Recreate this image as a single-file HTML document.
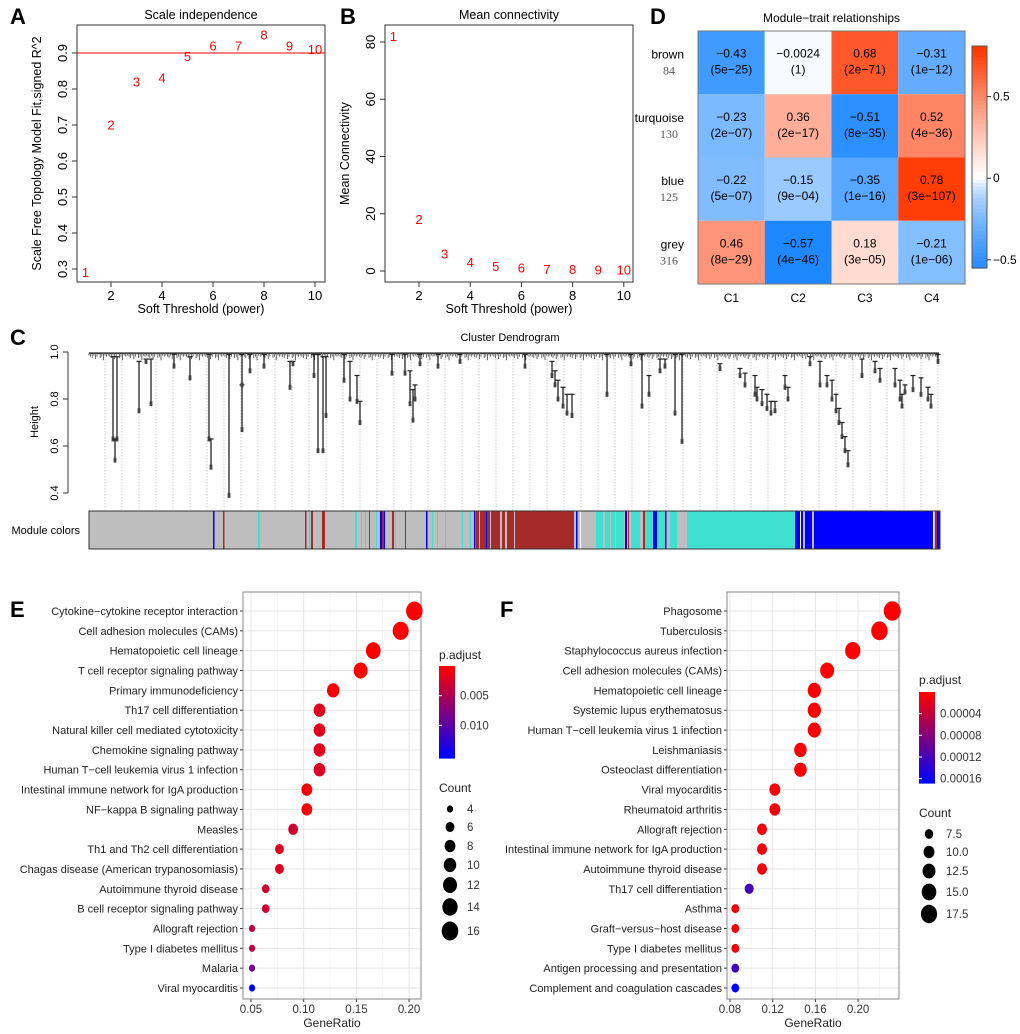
<!DOCTYPE html>
<html><head><meta charset="utf-8"><style>
html,body{margin:0;padding:0;background:#fff}
svg{display:block;font-family:"Liberation Sans",Arial,sans-serif}
</style></head><body>
<svg id="fig" width="1020" height="1034" viewBox="0 0 1020 1034" xmlns="http://www.w3.org/2000/svg"></svg>
<script>
// ---------- data ----------
const powers=[1,2,3,4,5,6,7,8,9,10];
const scaleFit=[0.29,0.70,0.82,0.83,0.89,0.92,0.92,0.95,0.92,0.91];
const meanConn=[82,18,6,3,1.5,1,0.6,0.5,0.4,0.3];
const modules=["brown","turquoise","blue","grey"];
const moduleSizes=[84,130,125,316];
const traits=["C1","C2","C3","C4"];
const corrVals=[[-0.43,-0.0024,0.68,-0.31],[-0.23,0.36,-0.51,0.52],[-0.22,-0.15,-0.35,0.78],[0.46,-0.57,0.18,-0.21]];
const corrP=[["5e-25","1","2e-71","1e-12"],["2e-07","2e-17","8e-35","4e-36"],["5e-07","9e-04","1e-16","3e-107"],["8e-29","4e-46","3e-05","1e-06"]];
const corrLabels=[["-0.43","-0.0024","0.68","-0.31"],["-0.23","0.36","-0.51","0.52"],["-0.22","-0.15","-0.35","0.78"],["0.46","-0.57","0.18","-0.21"]];
// dendrogram stems: [leaf position, top height, bottom height]
const dendroStems=[[113,.98,.63],[117,.98,.63],[115,.63,.54],[139,.96,.75],[151,.97,.78],[146,.97,.96],[174,.99,.94],[190,.98,.89],
[209,.99,.63],[211,.63,.51],[229,.99,.39],[242,.86,.67],[242,.99,.86],[250,.99,.92],[264,.99,.94],[290,.96,.85],[293,.96,.95],[314,.99,.90],
[318,.99,.58],[323,.98,.58],[326,.98,.73],[344,.99,.88],[350,.96,.80],[357,.90,.79],[360,.79,.70],[392,.99,.91],[405,.99,.91],[410,.92,.78],
[413,.84,.71],[415,.86,.80],[420,.99,.95],[438,.99,.94],[460,.99,.96],[525,.99,.94],[552,.96,.90],[555,.92,.86],[558,.88,.80],[563,.85,.77],
[567,.82,.74],[572,.82,.73],[607,.99,.82],[631,.99,.95],[642,.99,.77],[649,.90,.82],[660,.97,.92],[665,.97,.94],[675,.99,.74],[682,.99,.62],
[720,.95,.93],[740,.93,.90],[745,.91,.86],[755,.90,.82],[757,.85,.80],[762,.84,.78],[767,.82,.76],[771,.79,.74],[775,.79,.75],[785,.90,.85],
[788,.85,.80],[810,.98,.95],[820,.96,.86],[827,.90,.86],[832,.88,.80],[836,.82,.75],[839,.76,.70],[842,.70,.64],[845,.64,.58],[848,.58,.52],
[862,.97,.90],[875,.96,.92],[880,.93,.88],[895,.93,.86],[900,.88,.80],[902,.82,.77],[905,.86,.83],[913,.90,.84],[921,.89,.82],[928,.85,.80],[931,.82,.77],[938,.99,.96]];
const stubHeights=[.985,.98,.975,.985,.97,.98,.99,.975,.98,.965,.985,.98];
// module color segments: [start leaf, end leaf, color]
const moduleSegs=[[89,940,"#bebebe"],[213,214.5,"#0000ff"],[223,224.5,"#a52a2a"],[258,260,"#40e0d0"],[305,306.5,"#a52a2a"],[309,310.5,"#40e0d0"],
[311,313,"#a52a2a"],[322,325,"#a52a2a"],[355,357,"#40e0d0"],[361,362,"#40e0d0"],[365,366,"#40e0d0"],[369,370,"#a52a2a"],[376,377,"#40e0d0"],
[380,382,"#0000ff"],[382,384,"#a52a2a"],[384,385,"#0000ff"],[392,394,"#a52a2a"],[395,396,"#40e0d0"],[405,406,"#a52a2a"],[426,427.5,"#0000ff"],
[432,433,"#40e0d0"],[437,438,"#40e0d0"],[445,446,"#40e0d0"],[462,463,"#40e0d0"],[470,471,"#40e0d0"],[474,475.5,"#0000ff"],[476,500,"#a52a2a"],
[479,480,"#bebebe"],[486,487,"#0000ff"],[490,491,"#bebebe"],[502,505,"#a52a2a"],[507,514,"#a52a2a"],[515,574,"#a52a2a"],[576,577.5,"#0000ff"],
[580,581,"#ffffff"],[596,603,"#40e0d0"],[605,624,"#40e0d0"],[610,611,"#bebebe"],[615,616,"#bebebe"],[625,627,"#0000ff"],[628,629,"#a52a2a"],
[631,640,"#40e0d0"],[643,645,"#a52a2a"],[645,653,"#40e0d0"],[653,657,"#0000ff"],[657,665,"#40e0d0"],[665,666.5,"#0000ff"],[670,677,"#40e0d0"],
[687,795,"#40e0d0"],[795,800,"#0000ff"],[800,801,"#ffffff"],[801,803,"#0000ff"],[805,812,"#0000ff"],[814,933,"#0000ff"],[933,934,"#ffffff"],
[935,937,"#a52a2a"],[937,940,"#0000ff"]];
// panel E
const eTerms=["Cytokine\u2212cytokine receptor interaction","Cell adhesion molecules (CAMs)","Hematopoietic cell lineage","T cell receptor signaling pathway","Primary immunodeficiency","Th17 cell differentiation","Natural killer cell mediated cytotoxicity","Chemokine signaling pathway","Human T\u2212cell leukemia virus 1 infection","Intestinal immune network for IgA production","NF\u2212kappa B signaling pathway","Measles","Th1 and Th2 cell differentiation","Chagas disease (American trypanosomiasis)","Autoimmune thyroid disease","B cell receptor signaling pathway","Allograft rejection","Type I diabetes mellitus","Malaria","Viral myocarditis"];
const eRatio=[0.205,0.192,0.166,0.154,0.128,0.115,0.115,0.115,0.115,0.103,0.103,0.090,0.077,0.077,0.064,0.064,0.051,0.051,0.051,0.051];
const eCount=[16,15,13,12,10,9,9,9,9,8,8,7,6,6,5,5,4,4,4,4];
const ePadj=[0.00001,0.00001,0.00002,0.00002,0.0005,0.0018,0.0018,0.0018,0.0022,0.0005,0.0005,0.003,0.0018,0.0018,0.0028,0.0028,0.004,0.004,0.0085,0.0155];
const eXTicks=[0.05,0.10,0.15,0.20];
const eTickLabels=["0.05","0.10","0.15","0.20"];
const eCBTicks=[0.005,0.010];
const eCBLabels=["0.005","0.010"];
const eCountLegend=[4,6,8,10,12,14,16];
// panel F
const fTerms=["Phagosome","Tuberculosis","Staphylococcus aureus infection","Cell adhesion molecules (CAMs)","Hematopoietic cell lineage","Systemic lupus erythematosus","Human T\u2212cell leukemia virus 1 infection","Leishmaniasis","Osteoclast differentiation","Viral myocarditis","Rheumatoid arthritis","Allograft rejection","Intestinal immune network for IgA production","Autoimmune thyroid disease","Th17 cell differentiation","Asthma","Graft\u2212versus\u2212host disease","Type I diabetes mellitus","Antigen processing and presentation","Complement and coagulation cascades"];
const fRatio=[0.232,0.220,0.195,0.171,0.159,0.159,0.159,0.146,0.146,0.122,0.122,0.110,0.110,0.110,0.098,0.085,0.085,0.085,0.085,0.085];
const fCount=[19,18,16,14,13,13,13,12,12,10,10,9,9,9,8,7,7,7,7,7];
const fPadj=[0.000001,0.000001,0.000001,0.000002,0.000003,0.000003,0.000003,0.000005,0.000005,0.000006,0.000006,0.000008,0.000008,0.000008,0.00012,0.000008,0.000008,0.000008,0.00013,0.000168];
const fXTicks=[0.08,0.12,0.16,0.20];
const fTickLabels=["0.08","0.12","0.16","0.20"];
const fCBTicks=[0.00004,0.00008,0.00012,0.00016];
const fCBLabels=["0.00004","0.00008","0.00012","0.00016"];
const fCountLegend=[7.5,10,12.5,15,17.5];

// ---------- helpers ----------
const NS="http://www.w3.org/2000/svg";
const svg=document.getElementById('fig');
function mk(tag,attrs,parent){const e=document.createElementNS(NS,tag);for(const k in attrs)e.setAttribute(k,attrs[k]);(parent||svg).appendChild(e);return e;}
function txt(s,attrs,parent){const e=mk('text',attrs,parent);e.textContent=s;return e;}
function grp(name){const g=mk('g',{});return g;}

[["A",10,24],["B",340,24],["D",650,24],["C",10,345],["E",10,617],["F",500,617]].forEach(p=>{
  const t=txt(p[0],{x:p[1],y:p[2],'font-size':22,'font-weight':'bold'});
  
  
});

// ---------- Panel A & B ----------
function basePlot(name,box,xScale,yScale,yTicks,yLabels,vals,title,ylab,hline){
  const g=grp(name);
  const bx=mk('rect',{x:box[0],y:box[1],width:box[2]-box[0],height:box[3]-box[1],fill:'none',stroke:'#333','stroke-width':1},g);
  
  const t=txt(title,{x:(box[0]+box[2])/2,y:box[1]-6,'text-anchor':'middle','font-size':12.5},g);
  
  [2,4,6,8,10].forEach(v=>{
    const x=xScale(v);
    const tk=mk('line',{x1:x,x2:x,y1:box[3],y2:box[3]+5,stroke:'#333'},g);
    
    const tl=txt(String(v),{x:x,y:box[3]+18,'text-anchor':'middle','font-size':13},g);
    
  });
  const xl=txt('Soft Threshold (power)',{x:(box[0]+box[2])/2,y:box[3]+31,'text-anchor':'middle','font-size':12.5},g);
  
  yTicks.forEach((v,i)=>{
    const y=yScale(v);
    const tk=mk('line',{x1:box[0]-5,x2:box[0],y1:y,y2:y,stroke:'#333'},g);
    
    const tl=txt(yLabels[i],{x:0,y:0,'text-anchor':'middle','font-size':13,transform:`translate(${box[0]-10},${y}) rotate(-90)`},g);
    
  });
  const yl=txt(ylab,{x:0,y:0,'text-anchor':'middle','font-size':12.5,transform:`translate(${box[0]-36},${(box[1]+box[3])/2}) rotate(-90)`},g);
  
  if(hline!==undefined){
    const h=mk('line',{x1:box[0],x2:box[2],y1:yScale(hline),y2:yScale(hline),stroke:'#ff0000','stroke-width':1},g);
    
  }
  powers.forEach((p,i)=>{
    const pt=txt(String(p),{x:xScale(p),y:yScale(vals[i])+4.5,'text-anchor':'middle','font-size':13,fill:'#ff0000'},g);
    
  });
}
basePlot('panel-a-scale-independence',[77,25,325,282],v=>111+(v-2)*25.5,v=>53+(0.9-v)*360,[0.3,0.4,0.5,0.6,0.7,0.8,0.9],["0.3","0.4","0.5","0.6","0.7","0.8","0.9"],scaleFit,'Scale independence','Scale Free Topology Model Fit,signed R^2',0.9);
basePlot('panel-b-mean-connectivity',[385,25,633,282],v=>419+(v-2)*25.6,v=>271-v*2.8625,[0,20,40,60,80],["0","20","40","60","80"],meanConn,'Mean connectivity','Mean Connectivity');

// ---------- Panel D heatmap ----------
(function(){
  const g=grp('panel-d-module-trait-heatmap');
  const x0=698,y0=31,cw=66.75,ch=63.25;
  function col(v){
    const neg=[30,136,255],pos=[255,55,0];
    let t,c;
    if(v<0){t=Math.pow(Math.min(1,-v/0.57),0.6);c=neg;}else{t=Math.pow(Math.min(1,v/0.8),1.15);c=pos;}
    return `rgb(${Math.round(255+(c[0]-255)*t)},${Math.round(255+(c[1]-255)*t)},${Math.round(255+(c[2]-255)*t)})`;
  }
  const tt=txt('Module\u2212trait relationships',{x:x0+2*cw,y:22,'text-anchor':'middle','font-size':12},g);
  
  modules.forEach((m,r)=>{
    traits.forEach((c,k)=>{
      const cell=mk('rect',{x:x0+k*cw,y:y0+r*ch,width:cw,height:ch,fill:col(corrVals[r][k])},g);
      
      const cx=x0+(k+0.5)*cw,cy=y0+(r+0.5)*ch;
      const a=txt(corrLabels[r][k].replace('-','\u2212'),{x:cx,y:cy-5,'text-anchor':'middle','font-size':12},g);
      
      const b=txt('('+corrP[r][k].replace('-','\u2212')+')',{x:cx,y:cy+11,'text-anchor':'middle','font-size':12},g);
      
    });
    const ml=txt(m,{x:684,y:y0+(r+0.5)*ch-4,'text-anchor':'end','font-size':12},g);
    
    const ms=txt(String(moduleSizes[r]),{x:669,y:y0+(r+0.5)*ch+12,'text-anchor':'middle','font-size':12,fill:'#555','font-family':'"Liberation Serif",serif'},g);
    
  });
  const bd=mk('rect',{x:x0,y:y0,width:4*cw,height:4*ch,fill:'none',stroke:'#777'},g);
  
  traits.forEach((c,k)=>{
    const l=txt(c,{x:x0+(k+0.5)*cw,y:302,'text-anchor':'middle','font-size':12},g);
    
  });
  const cbTop=46,cbBot=268,hi=0.81,lo=-0.55;
  const yv=v=>cbTop+(hi-v)/(hi-lo)*(cbBot-cbTop);
  for(let i=0;i<60;i++){
    const v1=hi-(hi-lo)*i/60;
    const s=mk('rect',{x:972,y:cbTop+(cbBot-cbTop)*i/60,width:15,height:(cbBot-cbTop)/60+0.6,fill:col(v1)},g);
    
  }
  const cbb=mk('rect',{x:972,y:cbTop,width:15,height:cbBot-cbTop,fill:'none',stroke:'#555'},g);
  
  [[0.5,"0.5"],[0,"0"],[-0.5,"\u22120.5"]].forEach(p=>{
    const tk=mk('line',{x1:987,x2:991,y1:yv(p[0]),y2:yv(p[0]),stroke:'#333'},g);
    
    const tl=txt(p[1],{x:993,y:yv(p[0])+4,'font-size':12},g);
    
  });
})();

// ---------- Panel C dendrogram ----------
(function(){
  const g=grp('panel-c-cluster-dendrogram');
  const yH=h=>352+(1-h)*235;
  const t=txt('Cluster Dendrogram',{x:510,y:341,'text-anchor':'middle','font-size':11},g);
  
  const ax=mk('line',{x1:68,x2:68,y1:yH(1),y2:yH(0.4),stroke:'#333'},g);
  
  [[1,"1.0"],[0.8,"0.8"],[0.6,"0.6"],[0.4,"0.4"]].forEach(p=>{
    const tk=mk('line',{x1:63,x2:68,y1:yH(p[0]),y2:yH(p[0]),stroke:'#333'},g);
    
    const tl=txt(p[1],{x:0,y:0,'text-anchor':'middle','font-size':11,transform:`translate(${58},${yH(p[0])}) rotate(-90)`},g);
    
  });
  const yl=txt('Height',{x:0,y:0,'text-anchor':'middle','font-size':11,transform:`translate(38,422) rotate(-90)`},g);
  
  for(let x=105;x<=940;x+=17){
    const d=mk('line',{x1:x,x2:x,y1:yH(0.97),y2:510,stroke:'#aaa','stroke-width':0.6,'stroke-dasharray':'1.5,1.5'},g);
    
  }
  const top=mk('line',{x1:89,x2:939,y1:yH(0.995),y2:yH(0.995),stroke:'#333','stroke-width':1.6},g);
  
  for(let i=0;89+i*1.6<939;i++){
    const x=89+i*1.6,h=stubHeights[i%stubHeights.length];
    const s=mk('line',{x1:x,x2:x,y1:yH(0.995),y2:yH(h),stroke:'#555','stroke-width':0.9},g);
    
  }
  dendroStems.forEach(s=>{
    const l=mk('line',{x1:s[0],x2:s[0],y1:yH(s[1]),y2:yH(s[2]),stroke:'#222','stroke-width':1.3},g);
    
    const c=mk('line',{x1:s[0]-2.5,x2:s[0]+2.5,y1:yH(s[1]),y2:yH(s[1]),stroke:'#222','stroke-width':1.2},g);
    
    const b=mk('rect',{x:s[0]-1.4,y:yH(s[2])-2.5,width:2.8,height:5,fill:'#444'},g);
    
  });
  moduleSegs.forEach(s=>{
    const r=mk('rect',{x:s[0],y:511,width:s[1]-s[0],height:38,fill:s[2]},g);
    
  });
  const bb=mk('rect',{x:89,y:511,width:851,height:38,fill:'none',stroke:'#333'},g);
  
  const ml=txt('Module colors',{x:80,y:534,'text-anchor':'end','font-size':11},g);
  
})();

// ---------- Dot plots E & F ----------
function lerpCol(t){t=Math.max(0,Math.min(1,t));return `rgb(${Math.round(255*(1-t))},0,${Math.round(255*t)})`;}
function dotPlot(name,o){
  const g=grp(name);
  const xs=v=>o.x0+(v-o.v0)*o.k;
  const ys=i=>611+i*(988-611)/19;
  const bg=mk('rect',{x:o.L,y:592,width:o.R-o.L,height:407,fill:'#fff'},g);
  
  for(let j=0;j<o.ticks.length+1;j++){
    const v=o.ticks[0]+(j-0.5)*(o.ticks[1]-o.ticks[0]);
    const x=xs(v); if(x<o.L||x>o.R)continue;
    const gl=mk('line',{x1:x,x2:x,y1:592,y2:999,stroke:'#f2f2f2','stroke-width':0.8},g);
    
  }
  o.ticks.forEach((v,i)=>{
    const x=xs(v);
    const gl=mk('line',{x1:x,x2:x,y1:592,y2:999,stroke:'#e6e6e6','stroke-width':1},g);
    
    const tk=mk('line',{x1:x,x2:x,y1:999,y2:1002,stroke:'#333'},g);
    
    const tl=txt(o.tickLabels[i],{x:x,y:1013,'text-anchor':'middle','font-size':11.5,fill:'#333'},g);
    
  });
  o.terms.forEach((t,i)=>{
    const y=ys(i);
    const gl=mk('line',{x1:o.L,x2:o.R,y1:y,y2:y,stroke:'#e6e6e6','stroke-width':1},g);
    
    const tk=mk('line',{x1:o.L-3,x2:o.L,y1:y,y2:y,stroke:'#333'},g);
    
    const tl=txt(t,{x:o.L-5,y:y+4,'text-anchor':'end','font-size':11,fill:'#222'},g);
    
  });
  const bd=mk('rect',{x:o.L,y:592,width:o.R-o.L,height:407,fill:'none',stroke:'#888','stroke-width':1},g);
  
  const xl=txt('GeneRatio',{x:(o.L+o.R)/2,y:1027,'text-anchor':'middle','font-size':12,fill:'#222'},g);
  
  const rad=c=>Math.sqrt(o.r0*o.r0+(c-o.c0)/(o.c1-o.c0)*(o.r1*o.r1-o.r0*o.r0));
  o.ratio.forEach((v,i)=>{
    const r=rad(o.count[i]);
    const d=mk('ellipse',{cx:xs(v),cy:ys(i),rx:r*0.92,ry:r*1.05,fill:lerpCol(o.padj[i]/o.pmax)},g);
    
  });
  const lt=txt('p.adjust',{x:o.lx,y:o.ptY,'font-size':12,fill:'#222'},g);
  
  const N=40;
  for(let i=0;i<N;i++){
    const s=mk('rect',{x:o.lx,y:o.cbT+(o.cbB-o.cbT)*i/N,width:16,height:(o.cbB-o.cbT)/N+0.6,fill:lerpCol(i/(N-1))},g);
    
  }
  o.cbTicks.forEach((v,i)=>{
    const y=o.cbT+v/o.pmax*(o.cbB-o.cbT);
    const tl=txt(o.cbLabels[i],{x:o.lx+21,y:y+4,'font-size':11.5,fill:'#333'},g);
    
    const tk=mk('line',{x1:o.lx,x2:o.lx+3,y1:y,y2:y,stroke:'#fff'},g);
    
  });
  const ct=txt('Count',{x:o.lx,y:o.ctY,'font-size':12,fill:'#222'},g);
  
  o.countLeg.forEach((c,i)=>{
    const r=rad(c),y=o.legY[i];
    const d=mk('ellipse',{cx:o.lcx,cy:y,rx:r*0.92,ry:r*1.05,fill:'#000'},g);
    
    const tl=txt(String(o.countFmt(c)),{x:o.lcx+17,y:y+4,'font-size':11.5,fill:'#333'},g);
    
  });
}
dotPlot('panel-e-dotplot',{L:243,R:421,x0:251,v0:0.05,k:52.7/0.05,ticks:eXTicks,tickLabels:eTickLabels,terms:eTerms,ratio:eRatio,count:eCount,padj:ePadj,pmax:0.0155,
  r0:3.4,r1:9.0,c0:4,c1:16,lx:439,ptY:659,cbT:666,cbB:758,cbTicks:eCBTicks,cbLabels:eCBLabels,ctY:792,lcx:450,countLeg:eCountLegend,
  legY:[809,827,846,865,885,907,931],countFmt:c=>c});
dotPlot('panel-f-dotplot',{L:727,R:899,x0:730,v0:0.08,k:42.7/0.04,ticks:fXTicks,tickLabels:fTickLabels,terms:fTerms,ratio:fRatio,count:fCount,padj:fPadj,pmax:0.000168,
  r0:4.6,r1:8.8,c0:7.5,c1:17.5,lx:919,ptY:684,cbT:692,cbB:783,cbTicks:fCBTicks,cbLabels:fCBLabels,ctY:817,lcx:929,countLeg:fCountLegend,
  legY:[834,852,871,892,914],countFmt:c=>c.toFixed(1)});
</script>
</body></html>
